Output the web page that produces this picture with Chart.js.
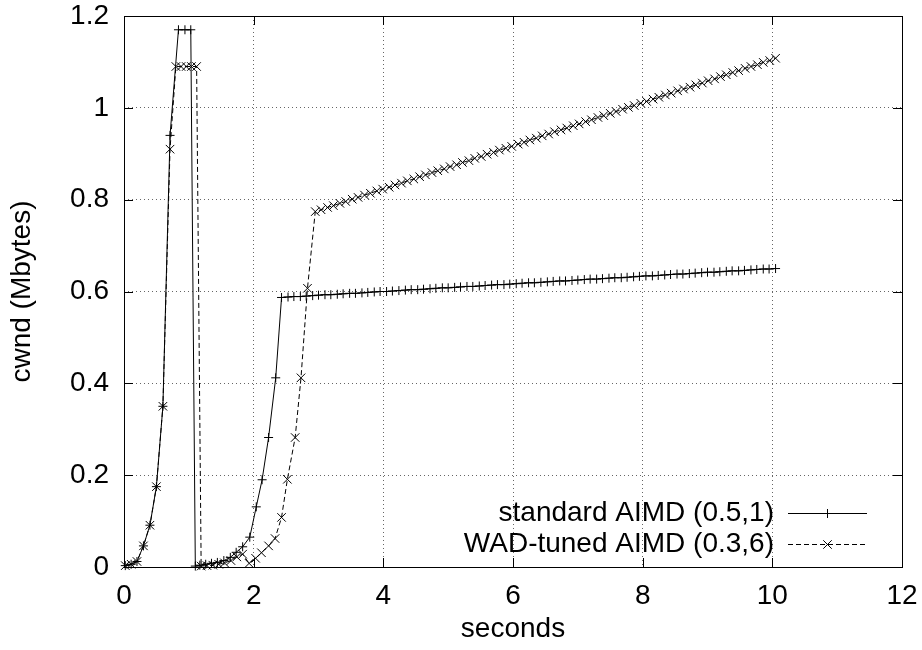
<!DOCTYPE html>
<html>
<head>
<meta charset="utf-8">
<title>cwnd vs time</title>
<script src="https://cdn.jsdelivr.net/npm/chart.js@4.4.0/dist/chart.umd.min.js"></script>
<style>
    html, body { margin: 0; padding: 0; background: #fff; }
    #wrap { width: 922px; height: 650px; }
</style>
</head>
<body>
<div id="wrap"><canvas id="cwnd-chart" width="922" height="650"></canvas></div>
<script>
// cwnd of standard AIMD vs WAD-tuned AIMD (gnuplot-style plot)

const xTicks = [0, 2, 4, 6, 8, 10, 12];
const yTicks = [0, 0.2, 0.4, 0.6, 0.8, 1, 1.2];
const seriesLabels = ['standard AIMD (0.5,1)', 'WAD-tuned AIMD (0.3,6)'];

// standard AIMD (0.5,1): seconds / Mbytes
const stdTime = [
    0.02, 0.11, 0.20, 0.30, 0.40, 0.50, 0.60, 0.71, 0.84, 0.94, 1.03,
    1.10, 1.17, 1.26, 1.35, 1.44, 1.54, 1.64, 1.73, 1.83, 1.94, 2.04, 2.13, 2.23, 2.34,
    2.43, 2.53, 2.62, 2.72, 2.81, 2.91, 3.00, 3.10, 3.19, 3.29, 3.38, 3.48, 3.57, 3.67, 3.76, 3.86,
    3.95, 4.05, 4.14, 4.24, 4.34, 4.43, 4.53, 4.62, 4.72, 4.81, 4.91, 5.00, 5.10, 5.19, 5.29, 5.38,
    5.48, 5.57, 5.67, 5.76, 5.86, 5.95, 6.05, 6.14, 6.24, 6.33, 6.43, 6.53, 6.62, 6.72, 6.81, 6.91,
    7.00, 7.10, 7.19, 7.29, 7.38, 7.48, 7.57, 7.67, 7.76, 7.86, 7.95, 8.05, 8.15, 8.24, 8.34, 8.43,
    8.53, 8.62, 8.72, 8.81, 8.91, 9.00, 9.10, 9.19, 9.29, 9.38, 9.48, 9.57, 9.67, 9.76, 9.86, 9.95,
    10.05
];
const stdCwnd = [
    0.003, 0.006, 0.012, 0.046, 0.091, 0.175, 0.350, 0.940, 1.170, 1.170, 1.170,
    0.002, 0.004, 0.006, 0.008, 0.010, 0.014, 0.021, 0.032, 0.044, 0.065, 0.131, 0.190, 0.282, 0.412,
    0.587, 0.588, 0.589, 0.589, 0.590, 0.591, 0.592, 0.593, 0.593, 0.594, 0.595, 0.596, 0.596, 0.597, 0.598, 0.599,
    0.600, 0.600, 0.601, 0.602, 0.603, 0.604, 0.604, 0.605, 0.606, 0.607, 0.608, 0.608, 0.609, 0.610, 0.611, 0.611,
    0.612, 0.613, 0.614, 0.615, 0.615, 0.616, 0.617, 0.618, 0.619, 0.619, 0.620, 0.621, 0.622, 0.623, 0.623, 0.624,
    0.625, 0.626, 0.627, 0.627, 0.628, 0.629, 0.630, 0.630, 0.631, 0.632, 0.633, 0.634, 0.634, 0.635, 0.636, 0.637,
    0.638, 0.638, 0.639, 0.640, 0.641, 0.642, 0.642, 0.643, 0.644, 0.645, 0.645, 0.646, 0.647, 0.648, 0.649, 0.649,
    0.650
];

// WAD-tuned AIMD (0.3,6)
const wadTime = [
    0.02, 0.11, 0.20, 0.30, 0.40, 0.50, 0.60, 0.71, 0.80, 0.88, 0.96, 1.04, 1.12,
    1.19, 1.28, 1.37, 1.46, 1.55, 1.65, 1.74, 1.83, 1.93, 2.03, 2.12, 2.23, 2.33, 2.43, 2.52, 2.64, 2.73, 2.83,
    2.95, 3.04, 3.14, 3.23, 3.33, 3.42, 3.52, 3.61, 3.71, 3.80, 3.90, 3.99, 4.09, 4.18, 4.28, 4.37,
    4.47, 4.56, 4.65, 4.75, 4.84, 4.94, 5.03, 5.13, 5.22, 5.32, 5.41, 5.51, 5.60, 5.70, 5.79, 5.89,
    5.98, 6.08, 6.17, 6.26, 6.36, 6.45, 6.55, 6.64, 6.74, 6.83, 6.93, 7.02, 7.12, 7.21, 7.31, 7.40,
    7.50, 7.59, 7.69, 7.78, 7.87, 7.97, 8.06, 8.16, 8.25, 8.35, 8.44, 8.54, 8.63, 8.73, 8.82, 8.92,
    9.01, 9.11, 9.20, 9.29, 9.39, 9.48, 9.58, 9.67, 9.77, 9.86, 9.96, 10.05
];
const wadCwnd = [
    0.003, 0.006, 0.012, 0.046, 0.091, 0.175, 0.350, 0.910, 1.090, 1.090, 1.090, 1.090, 1.090,
    0.002, 0.003, 0.004, 0.006, 0.009, 0.014, 0.022, 0.028, 0.008, 0.019, 0.031, 0.046, 0.062, 0.108, 0.191, 0.282, 0.412, 0.607,
    0.774, 0.778, 0.783, 0.787, 0.792, 0.796, 0.801, 0.805, 0.810, 0.814, 0.819, 0.823, 0.827, 0.832, 0.836, 0.841,
    0.845, 0.850, 0.854, 0.859, 0.863, 0.867, 0.872, 0.876, 0.881, 0.885, 0.890, 0.894, 0.899, 0.903, 0.908, 0.912,
    0.916, 0.921, 0.925, 0.930, 0.934, 0.939, 0.943, 0.948, 0.952, 0.956, 0.961, 0.965, 0.970, 0.974, 0.979, 0.983,
    0.988, 0.992, 0.997, 1.001, 1.005, 1.010, 1.014, 1.019, 1.023, 1.028, 1.032, 1.037, 1.041, 1.045, 1.050, 1.054,
    1.059, 1.063, 1.068, 1.072, 1.077, 1.081, 1.086, 1.090, 1.094, 1.099, 1.103, 1.108
];

const FONT = '"Liberation Sans", Arial, Helvetica, sans-serif';
const FONT_SIZE = 28;

function toPoints(times, values) {
    return times.map((t, i) => ({ x: t, y: values[i] }));
}

// box border with inward tick marks on all four sides, like gnuplot
const frameTicks = {
    id: 'frameTicks',
    beforeDatasetsDraw(chart) {
        const { ctx, chartArea } = chart;
        const { left, right, top, bottom } = chartArea;
        const xs = chart.scales.x;
        const ys = chart.scales.y;
        const len = 9;
        ctx.save();
        ctx.strokeStyle = '#000';
        ctx.lineWidth = 1;
        ctx.beginPath();
        xTicks.forEach(v => {
            const px = Math.round(xs.getPixelForValue(v)) + 0.5;
            ctx.moveTo(px, bottom);
            ctx.lineTo(px, bottom - len);
            ctx.moveTo(px, top);
            ctx.lineTo(px, top + len);
        });
        yTicks.forEach(v => {
            const py = Math.round(ys.getPixelForValue(v)) + 0.5;
            ctx.moveTo(left, py);
            ctx.lineTo(left + len, py);
            ctx.moveTo(right, py);
            ctx.lineTo(right - len, py);
        });
        ctx.stroke();
        ctx.strokeRect(Math.round(left) + 0.5, Math.round(top) + 0.5,
            Math.round(right - left), Math.round(bottom - top));
        ctx.restore();
    }
};

// key in the lower right: text first, then the line sample with its marker
const keyLegend = {
    id: 'keyLegend',
    afterDraw(chart) {
        const { ctx, chartArea } = chart;
        const textRight = chartArea.right - 128;
        const x0 = chartArea.right - 114;
        const x1 = chartArea.right - 35;
        const rows = [chartArea.bottom - 54, chartArea.bottom - 23];
        ctx.save();
        ctx.font = FONT_SIZE + 'px ' + FONT;
        ctx.fillStyle = '#000';
        ctx.textAlign = 'right';
        ctx.textBaseline = 'middle';
        chart.data.datasets.forEach((ds, i) => {
            const y = rows[i];
            ctx.fillText(ds.label, textRight, y);
            ctx.strokeStyle = '#000';
            ctx.lineWidth = 1;
            ctx.setLineDash(ds.borderDash || []);
            ctx.beginPath();
            ctx.moveTo(x0, y + 0.5);
            ctx.lineTo(x1, y + 0.5);
            ctx.stroke();
            ctx.setLineDash([]);
            Chart.helpers.drawPoint(ctx, {
                pointStyle: ds.pointStyle,
                radius: ds.pointRadius,
                borderWidth: 1,
                rotation: 0
            }, (x0 + x1) / 2, y + 0.5);
        });
        ctx.restore();
    }
};

const ctx = document.getElementById('cwnd-chart');

new Chart(ctx, {
    type: 'line',
    data: {
        datasets: [{
            label: seriesLabels[0],
            data: toPoints(stdTime, stdCwnd),
            borderColor: '#000',
            borderWidth: 1,
            pointStyle: 'cross',
            pointRadius: 4.5,
            pointBorderColor: '#000',
            pointBorderWidth: 1,
            tension: 0,
            fill: false,
            clip: false
        }, {
            label: seriesLabels[1],
            data: toPoints(wadTime, wadCwnd),
            borderColor: '#000',
            borderWidth: 1,
            borderDash: [5, 3],
            pointStyle: 'crossRot',
            pointRadius: 6,
            pointBorderColor: '#000',
            pointBorderWidth: 1,
            tension: 0,
            fill: false,
            clip: false
        }]
    },
    options: {
        responsive: false,
        devicePixelRatio: 1,
        animation: false,
        layout: { padding: 0 },
        plugins: {
            legend: { display: false },
            tooltip: { enabled: false }
        },
        scales: {
            x: {
                type: 'linear',
                min: 0,
                max: 12,
                afterBuildTicks: scale => { scale.ticks = xTicks.map(v => ({ value: v })); },
                afterFit: scale => {
                    scale.height = 83;
                    scale.paddingLeft = 0;
                    scale.paddingRight = 20;
                },
                ticks: {
                    color: '#000',
                    font: { family: FONT, size: FONT_SIZE },
                    padding: 12,
                    maxRotation: 0,
                    autoSkip: false,
                    callback: v => String(v)
                },
                grid: { color: '#666', lineWidth: 1, drawTicks: false },
                border: { display: false, dash: [1, 3] },
                title: {
                    display: true,
                    text: 'seconds',
                    color: '#000',
                    font: { family: FONT, size: FONT_SIZE },
                    padding: { top: 0, bottom: 4 }
                }
            },
            y: {
                type: 'linear',
                min: 0,
                max: 1.2,
                afterBuildTicks: scale => { scale.ticks = yTicks.map(v => ({ value: v })); },
                afterFit: scale => {
                    scale.width = 124;
                    scale.paddingTop = 16;
                    scale.paddingBottom = 0;
                },
                ticks: {
                    color: '#000',
                    font: { family: FONT, size: FONT_SIZE },
                    padding: 15,
                    autoSkip: false,
                    callback: v => String(v)
                },
                grid: { color: '#666', lineWidth: 1, drawTicks: false },
                border: { display: false, dash: [1, 3] },
                title: {
                    display: true,
                    text: 'cwnd (Mbytes)',
                    color: '#000',
                    font: { family: FONT, size: FONT_SIZE },
                    padding: { top: 5, bottom: 0 }
                }
            }
        }
    },
    plugins: [frameTicks, keyLegend]
});
</script>
</body>
</html>
